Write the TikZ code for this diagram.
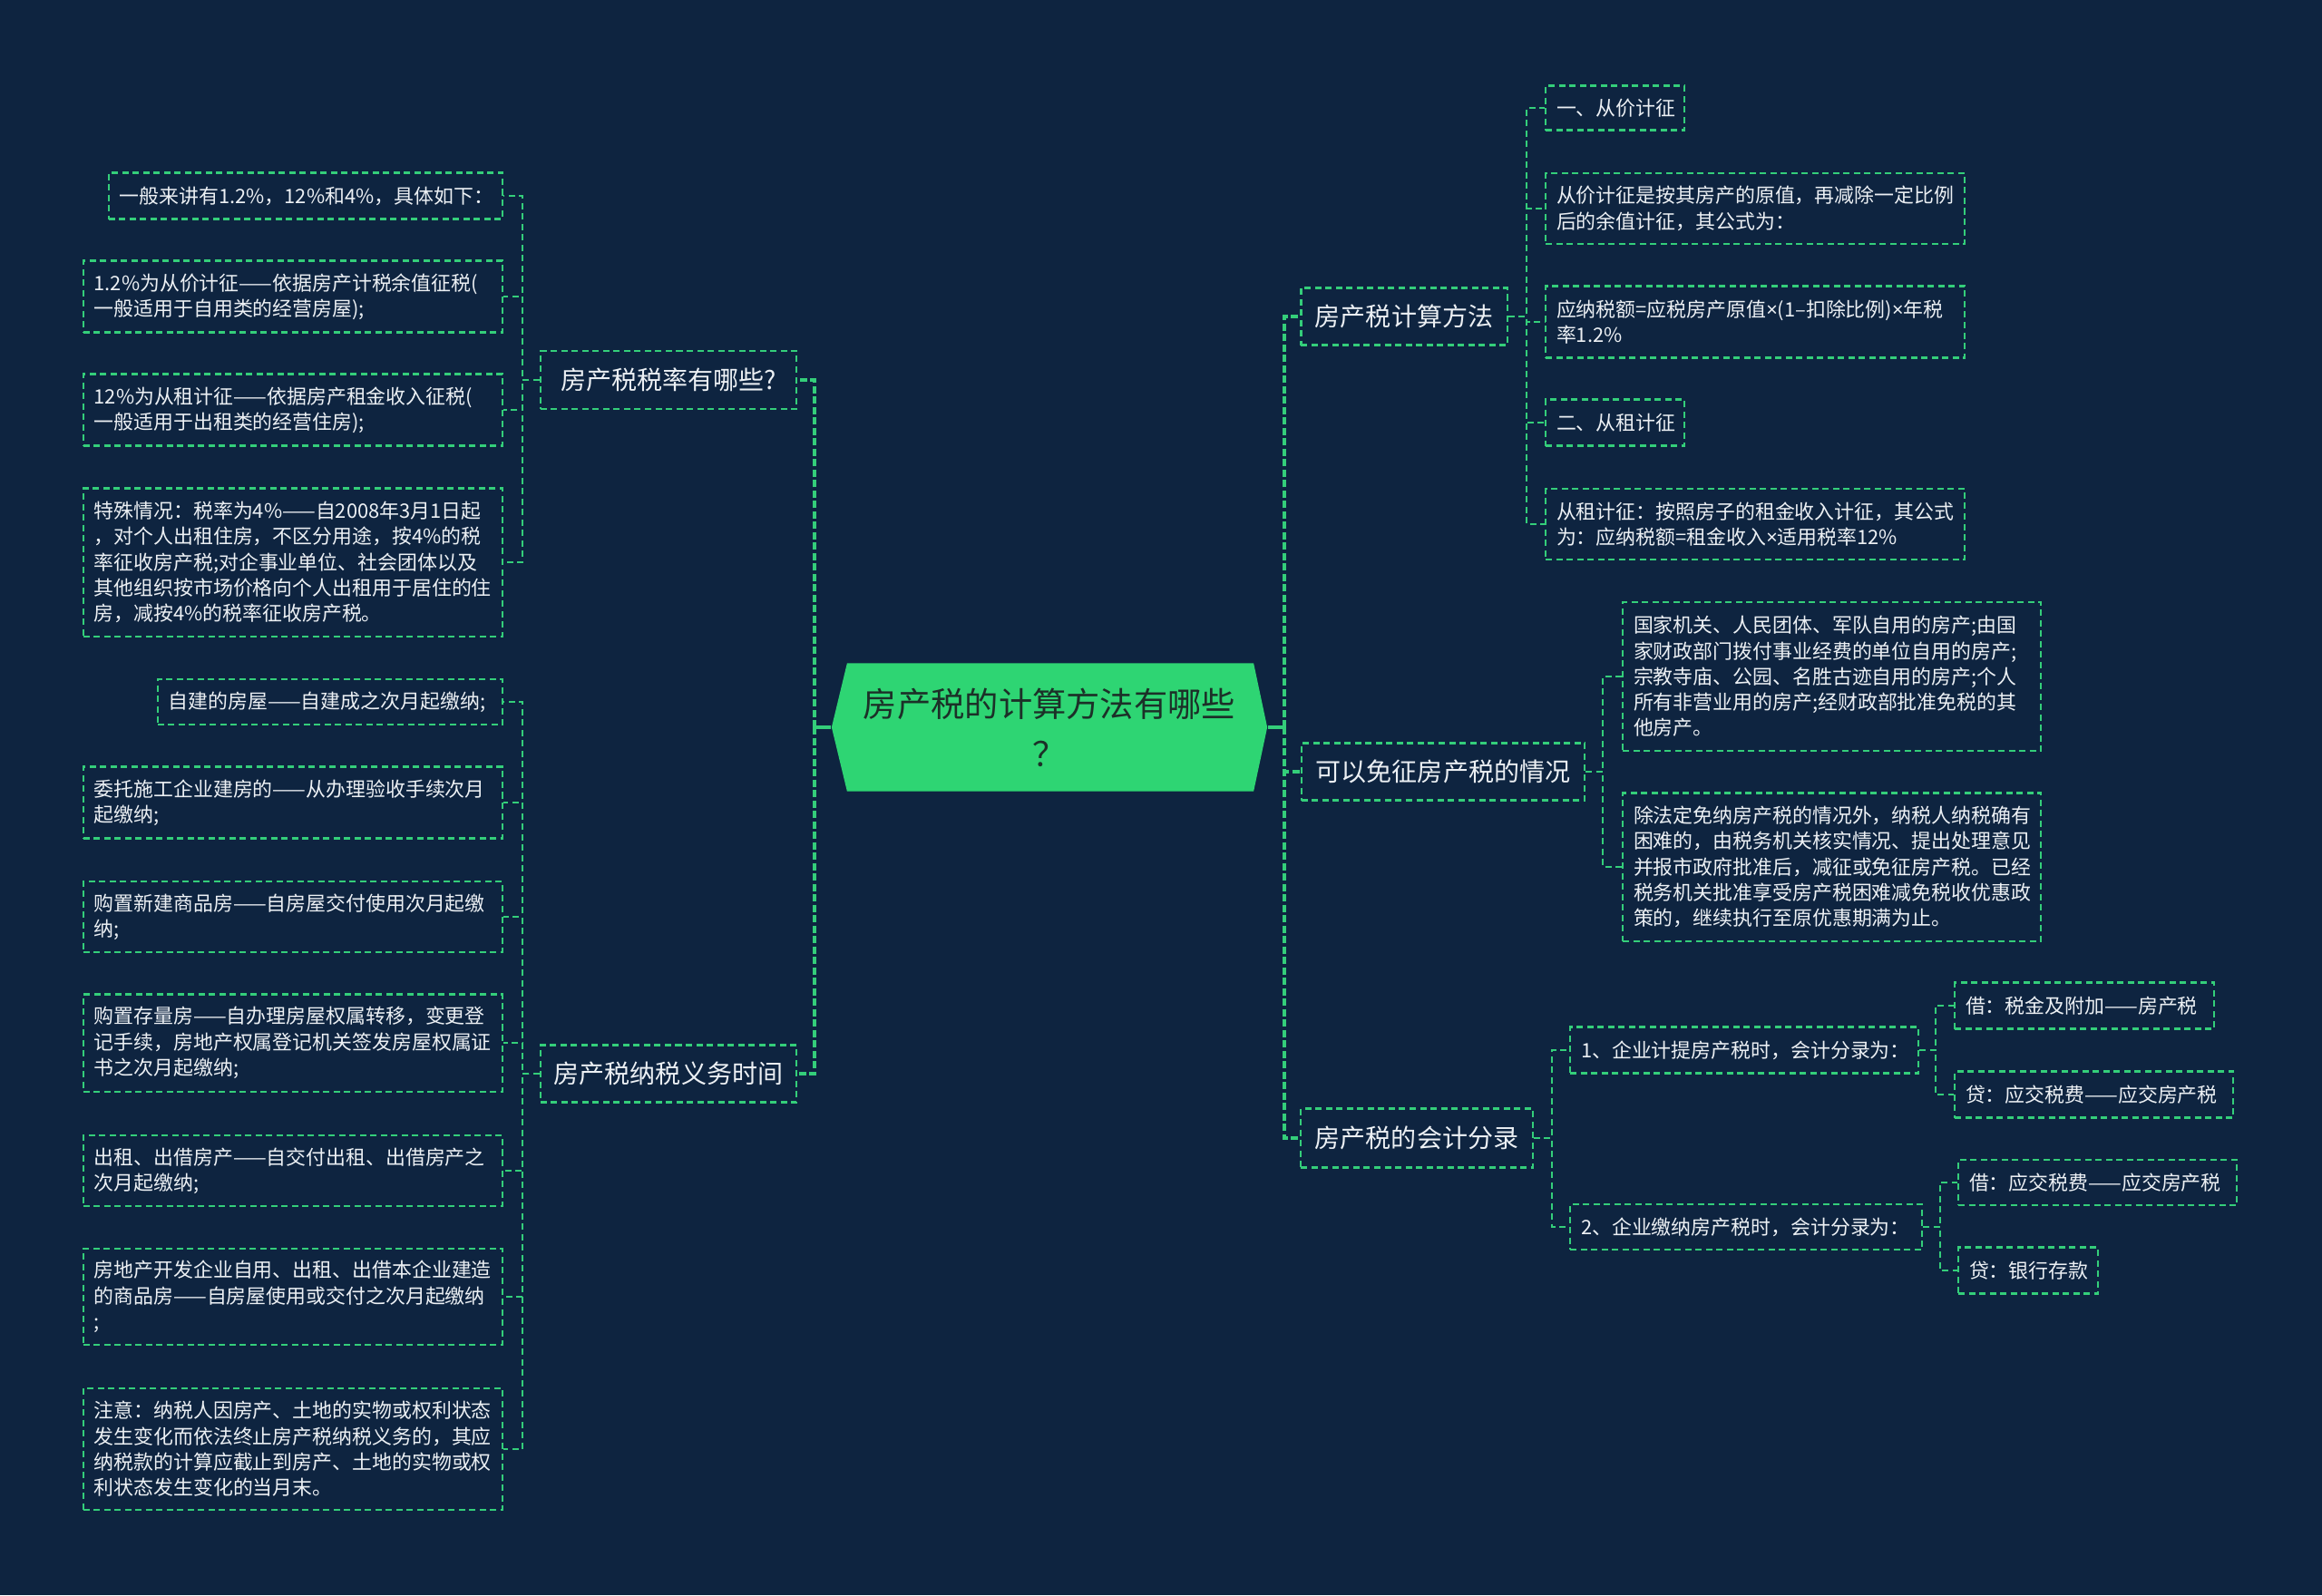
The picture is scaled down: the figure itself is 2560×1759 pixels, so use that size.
\documentclass[tikz,border=0pt]{standalone}
\usepackage{fontspec}
\newfontfamily\cjk{Noto Sans CJK SC}
\newfontfamily\latinsans{Noto Sans}
\usepackage{tikz}
\usetikzlibrary{calc}
\usepackage{xcolor}
\definecolor{bgcol}{RGB}{14,36,64}
\definecolor{linecol}{RGB}{52,206,122}
\definecolor{rootcol}{RGB}{46,213,115}
\definecolor{roottxt}{RGB}{28,48,40}
\definecolor{txtcol}{RGB}{236,240,244}

\begin{document}
\begin{tikzpicture}[x=0.01cm, y=-0.01cm,
        link/.style={draw=linecol, line width=0.6pt, dash pattern=on 0.07cm off 0.045cm},
        trunk/.style={draw=linecol, line width=1pt, dash pattern=on 0.08cm off 0.035cm},
        leaf/.style={link, rectangle, align=left, text=txtcol, inner xsep=0.12cm, inner ysep=0pt, font=\cjk\fontsize{6.23pt}{8.05pt}\selectfont},
        topic/.style={link, rectangle, align=center, text=txtcol, inner sep=0pt, font=\cjk\fontsize{7.97pt}{10pt}\selectfont},
        rootbox/.style={rectangle, align=center, text=roottxt, inner sep=0pt, minimum width=4.8cm, minimum height=1.41cm,
            font=\cjk\fontsize{10.6pt}{15.6pt}\selectfont,
            path picture={\fill[rootcol] (path picture bounding box.west) -- ($(path picture bounding box.north west)+(17,0)$)
                -- ($(path picture bounding box.north east)+(-15,0)$) -- (path picture bounding box.east)
                -- ($(path picture bounding box.south east)+(-15,0)$) -- ($(path picture bounding box.south west)+(17,0)$) -- cycle;}}]
        \useasboundingbox (0,0) rectangle (2560,1759);
        \fill[bgcol] (0,0) rectangle (2560,1759);

        \node (root) [rootbox] at (1157,802) {房产税的计算方法有哪些\\？};

        \node (rate) [topic, minimum width=2.82cm, minimum height=0.64cm] at (737,419) {房产税税率有哪些?};
        \node (duty) [topic, minimum width=2.82cm, minimum height=0.63cm] at (737,1184) {房产税纳税义务时间};
        \node (method) [topic, minimum width=2.27cm, minimum height=0.63cm] at (1548,349) {房产税计算方法};
        \node (exempt) [topic, minimum width=3.12cm, minimum height=0.63cm] at (1591,851) {可以免征房产税的情况};
        \node (acct) [topic, minimum width=2.55cm, minimum height=0.65cm] at (1562,1255) {房产税的会计分录};

        \node (a1) [leaf, anchor=east, text width=4.10cm, minimum height=0.51cm] at (555,216) {一般来讲有1.2\%，12\%和4\%，具体如下：};
        \node (a2) [leaf, anchor=east, text width=4.38cm, minimum height=0.79cm] at (555,327) {1.2\%为从价计征——依据房产计税余值征税(\\一般适用于自用类的经营房屋);};
        \node (a3) [leaf, anchor=east, text width=4.38cm, minimum height=0.79cm] at (555,452) {12\%为从租计征——依据房产租金收入征税(\\一般适用于出租类的经营住房);};
        \node (a4) [leaf, anchor=east, text width=4.38cm, minimum height=1.63cm] at (555,620) {特殊情况：税率为4\%——自2008年3月1日起\\，对个人出租住房，不区分用途，按4\%的税\\率征收房产税;对企事业单位、社会团体以及\\其他组织按市场价格向个人出租用于居住的住\\房，减按4\%的税率征收房产税。};

        \node (b1) [leaf, anchor=east, text width=3.56cm, minimum height=0.50cm] at (555,774) {自建的房屋——自建成之次月起缴纳;};
        \node (b2) [leaf, anchor=east, text width=4.38cm, minimum height=0.79cm] at (555,885) {委托施工企业建房的——从办理验收手续次月\\起缴纳;};
        \node (b3) [leaf, anchor=east, text width=4.38cm, minimum height=0.78cm] at (555,1011) {购置新建商品房——自房屋交付使用次月起缴\\纳;};
        \node (b4) [leaf, anchor=east, text width=4.38cm, minimum height=1.07cm] at (555,1150) {购置存量房——自办理房屋权属转移，变更登\\记手续，房地产权属登记机关签发房屋权属证\\书之次月起缴纳;};
        \node (b5) [leaf, anchor=east, text width=4.38cm, minimum height=0.78cm] at (555,1291) {出租、出借房产——自交付出租、出借房产之\\次月起缴纳;};
        \node (b6) [leaf, anchor=east, text width=4.38cm, minimum height=1.06cm] at (555,1430) {房地产开发企业自用、出租、出借本企业建造\\的商品房——自房屋使用或交付之次月起缴纳\\;};
        \node (b7) [leaf, anchor=east, text width=4.38cm, minimum height=1.34cm] at (555,1598) {注意：纳税人因房产、土地的实物或权利状态\\发生变化而依法终止房产税纳税义务的，其应\\纳税款的计算应截止到房产、土地的实物或权\\利状态发生变化的当月末。};

        \node (c1) [leaf, anchor=west, text width=1.29cm, minimum height=0.49cm] at (1703,119) {一、从价计征};
        \node (c2) [leaf, anchor=west, text width=4.38cm, minimum height=0.78cm] at (1703,230) {从价计征是按其房产的原值，再减除一定比例\\后的余值计征，其公式为：};
        \node (c3) [leaf, anchor=west, text width=4.38cm, minimum height=0.79cm] at (1703,355) {\mbox{应纳税额=应税房产原值{\latinsans ×}(1–扣除比例){\latinsans ×}年税}\\率1.2\%};
        \node (c4) [leaf, anchor=west, text width=1.29cm, minimum height=0.51cm] at (1703,466) {二、从租计征};
        \node (c5) [leaf, anchor=west, text width=4.38cm, minimum height=0.78cm] at (1703,578) {从租计征：按照房子的租金收入计征，其公式\\为：应纳税额=租金收入{\latinsans ×}适用税率12\%};

        \node (d1) [leaf, anchor=west, text width=4.37cm, minimum height=1.64cm] at (1788,746) {国家机关、人民团体、军队自用的房产;由国\\家财政部门拨付事业经费的单位自用的房产;\\宗教寺庙、公园、名胜古迹自用的房产;个人\\所有非营业用的房产;经财政部批准免税的其\\他房产。};
        \node (d2) [leaf, anchor=west, text width=4.37cm, minimum height=1.63cm] at (1788,956) {除法定免纳房产税的情况外，纳税人纳税确有\\困难的，由税务机关核实情况、提出处理意见\\并报市政府批准后，减征或免征房产税。已经\\税务机关批准享受房产税困难减免税收优惠政\\策的，继续执行至原优惠期满为止。};

        \node (e1) [leaf, anchor=west, text width=3.60cm, minimum height=0.51cm] at (1730,1158) {1、企业计提房产税时，会计分录为：};
        \node (e2) [leaf, anchor=west, text width=3.64cm, minimum height=0.50cm] at (1730,1353) {2、企业缴纳房产税时，会计分录为：};
        \node (e11) [leaf, anchor=west, text width=2.62cm, minimum height=0.51cm] at (2154,1109) {借：税金及附加——房产税};
        \node (e12) [leaf, anchor=west, text width=2.83cm, minimum height=0.51cm] at (2154,1207) {贷：应交税费——应交房产税};
        \node (e21) [leaf, anchor=west, text width=2.83cm, minimum height=0.50cm] at (2158,1304) {借：应交税费——应交房产税};
        \node (e22) [leaf, anchor=west, text width=1.30cm, minimum height=0.51cm] at (2158,1401) {贷：银行存款};

        \coordinate (ltrunk) at (898,802);
        \coordinate (rtrunk) at (1416,802);
        \coordinate (rateb) at (576,419);
        \coordinate (dutyb) at (576,1184);
        \coordinate (methodb) at (1683,349);
        \coordinate (exemptb) at (1767,851);
        \coordinate (acctb) at (1711,1255);
        \coordinate (e1b) at (2134,1158);
        \coordinate (e2b) at (2139,1353);

        \draw[linecol, line width=1.4pt] (root) -- (ltrunk);
        \draw[linecol, line width=1.4pt] (root) -- (rtrunk);
        \draw[trunk] (ltrunk) |- (rate);
        \draw[trunk] (ltrunk) |- (duty);
        \draw[trunk] (rtrunk) |- (method);
        \draw[trunk] (rtrunk) |- (exempt);
        \draw[trunk] (rtrunk) |- (acct);

        \draw[link] (rate) -- (rateb) |- (a1);
        \draw[link] (rate) -- (rateb) |- (a2);
        \draw[link] (rate) -- (rateb) |- (a3);
        \draw[link] (rate) -- (rateb) |- (a4);

        \draw[link] (duty) -- (dutyb) |- (b1);
        \draw[link] (duty) -- (dutyb) |- (b2);
        \draw[link] (duty) -- (dutyb) |- (b3);
        \draw[link] (duty) -- (dutyb) |- (b4);
        \draw[link] (duty) -- (dutyb) |- (b5);
        \draw[link] (duty) -- (dutyb) |- (b6);
        \draw[link] (duty) -- (dutyb) |- (b7);

        \draw[link] (method) -- (methodb) |- (c1);
        \draw[link] (method) -- (methodb) |- (c2);
        \draw[link] (method) -- (methodb) |- (c3);
        \draw[link] (method) -- (methodb) |- (c4);
        \draw[link] (method) -- (methodb) |- (c5);

        \draw[link] (exempt) -- (exemptb) |- (d1);
        \draw[link] (exempt) -- (exemptb) |- (d2);

        \draw[link] (acct) -- (acctb) |- (e1);
        \draw[link] (acct) -- (acctb) |- (e2);
        \draw[link] (e1) -- (e1b) |- (e11);
        \draw[link] (e1) -- (e1b) |- (e12);
        \draw[link] (e2) -- (e2b) |- (e21);
        \draw[link] (e2) -- (e2b) |- (e22);
    \end{tikzpicture}
\end{document}
